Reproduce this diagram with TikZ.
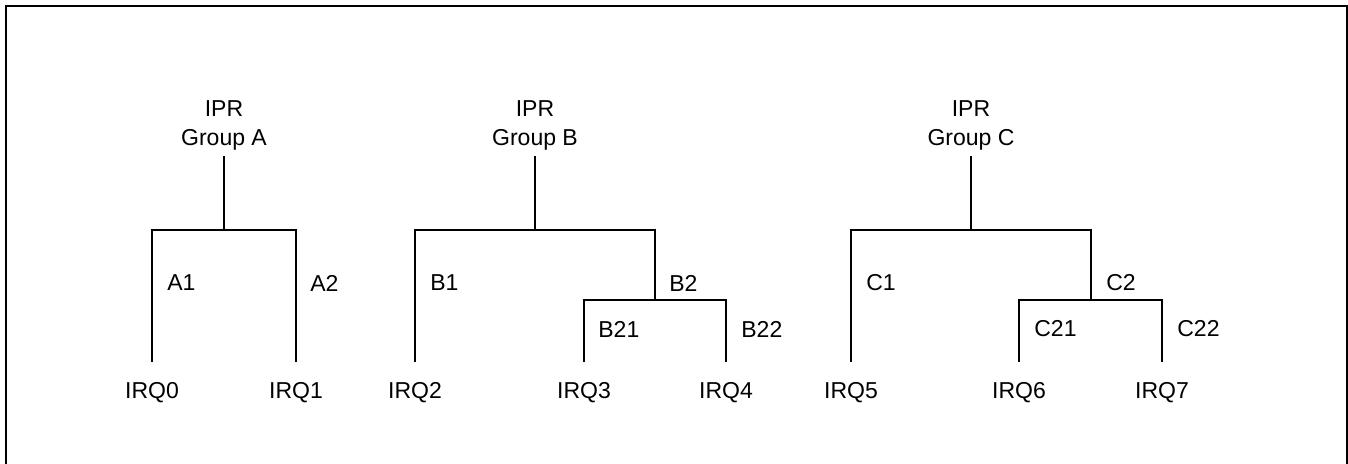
\documentclass[tikz,border=0pt]{standalone}
\usepackage{fontspec}
\setmainfont{Liberation Sans}
\usepackage{tikz}
\usetikzlibrary{positioning,calc}

\begin{document}
\begin{tikzpicture}[x=0.02cm, y=-0.02cm,
    every node/.style={font=\fontsize{13.1pt}{16.5pt}\selectfont},
    root/.style={align=center},
    leaf/.style={inner sep=0pt, minimum height=1.12cm, text height=0.33cm, text depth=0pt},
    lbl/.style={anchor=west, inner sep=0pt},
    wire/.style={line width=1.1pt, black}]
    % frame, open at the bottom
    \clip (0,0) rectangle (1348,463);
    \draw[wire] (6,475) -- (6,6) -- (1347,6) -- (1347,475);

    % group A
    \node[root] (ga) at (224,125) {IPR\\Group A};
    \node[leaf] (q0) at (152,390) {IRQ0};
    \node[leaf] (q1) at (296,390) {IRQ1};
    \coordinate (ja) at (224,230);
    \draw[wire] (ga.south) -- (ja);
    \draw[wire] (q0.north) |- (ja) -| (q1.north);
    \node[lbl] at (167,283) {A1};
    \node[lbl] at (310,283) {A2};

    % group B
    \node[root] (gb) at (535,125) {IPR\\Group B};
    \node[leaf] (q2) at (415,390) {IRQ2};
    \node[leaf] (q3) at (584,390) {IRQ3};
    \node[leaf] (q4) at (726,390) {IRQ4};
    \coordinate (jb) at (535,230);
    \coordinate (jb2) at (655,300);
    \draw[wire] (gb.south) -- (jb);
    \draw[wire] (q2.north) |- (jb) -| (jb2);
    \draw[wire] (q3.north) |- (jb2) -| (q4.north);
    \node[lbl] at (430,283) {B1};
    \node[lbl] at (669,283) {B2};
    \node[lbl] at (598,329) {B21};
    \node[lbl] at (741,329) {B22};

    % group C
    \node[root] (gc) at (971,125) {IPR\\Group C};
    \node[leaf] (q5) at (851,390) {IRQ5};
    \node[leaf] (q6) at (1019,390) {IRQ6};
    \node[leaf] (q7) at (1162,390) {IRQ7};
    \coordinate (jc) at (971,230);
    \coordinate (jc2) at (1091,300);
    \draw[wire] (gc.south) -- (jc);
    \draw[wire] (q5.north) |- (jc) -| (jc2);
    \draw[wire] (q6.north) |- (jc2) -| (q7.north);
    \node[lbl] at (866,283) {C1};
    \node[lbl] at (1106,283) {C2};
    \node[lbl] at (1034,329) {C21};
    \node[lbl] at (1177,329) {C22};
\end{tikzpicture}
\end{document}
